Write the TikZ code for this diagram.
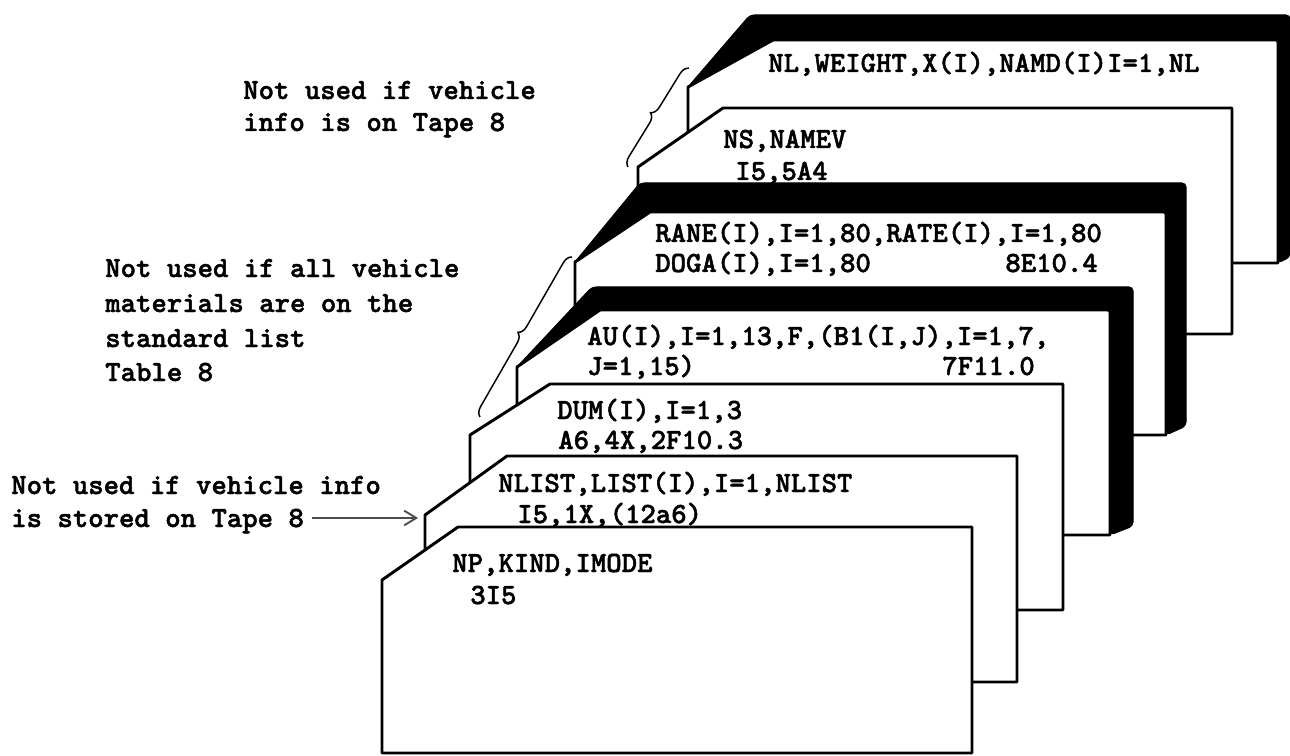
\documentclass[tikz,border=0pt]{standalone}
\usepackage{fontspec}
\newfontfamily\cardfont[Extension=.otf, FakeBold=1.6]{lmmonolt10-bold}
\usetikzlibrary{decorations.pathreplacing,arrows.meta}
\begin{document}
\begin{tikzpicture}[x=0.75pt,y=-0.75pt,
  card/.style={draw=black, fill=white, line width=2.2pt, line join=round},
  band/.style={fill=black, draw=black, line width=0.8pt, line join=round, rounded corners=3pt},
  tt/.style={font={\cardfont\fontsize{22}{24}\selectfont}, inner sep=0pt, text=black},
  cardtext/.style={tt, anchor=base west},
  cardright/.style={tt, anchor=base east},
  bracestyle/.style={decorate, decoration={brace, amplitude=7pt}, line width=1.1pt},
  pointer/.style={-{Straight Barb[length=9pt,width=11pt]}, line width=1.4pt, draw=black!70}
]
\useasboundingbox (0,0) rectangle (1290,756);

% --- card 7 (back): NL,WEIGHT
\draw[card] (688,263) -- (688,87) -- (773,40) -- (1278,40) -- (1278,263) -- cycle;
\filldraw[band] (688,87) -- (750,15) -- (1290,15) -- (1290,257) -- (1278,263) -- (1278,40) -- (773,40) -- cycle;
\node[cardtext] (nl) at (768,72) {NL,WEIGHT,X(I),NAMD(I)I=1,NL};

% --- card 6: NS,NAMEV
\draw[card] (638,334) -- (638,167) -- (723,108) -- (1232,108) -- (1232,334) -- cycle;
\node[cardtext] (ns1) at (723,148) {NS,NAMEV};
\node[cardtext] (ns2) at (735,180) {I5,5A4};

% --- card 5: RANE
\draw[card] (575,435) -- (575,262) -- (650,212) -- (1166,212) -- (1166,435) -- cycle;
\filldraw[band] (575,262) -- (640,183) -- (1186,183) -- (1186,426) -- (1166,435) -- (1166,212) -- (650,212) -- cycle;
\node[cardtext] (ra1) at (655,242) {RANE(I),I=1,80,RATE(I),I=1,80};
\node[cardtext] (ra2) at (655,272) {DOGA(I),I=1,80};
\node[cardright] (ra3) at (1098,272) {8E10.4};

% --- card 4: AU
\draw[card] (517,535) -- (517,367) -- (600,310) -- (1110,310) -- (1110,535) -- cycle;
\filldraw[band] (517,367) -- (592,287) -- (1133,287) -- (1133,526) -- (1110,535) -- (1110,310) -- (600,310) -- cycle;
\node[cardtext] (au1) at (587,345) {AU(I),I=1,13,F,(B1(I,J),I=1,7,};
\node[cardtext] (au2) at (587,375) {J=1,15)};
\node[cardright] (au3) at (1035,375) {7F11.0};

% --- card 3: DUM
\draw[card] (470,610) -- (470,435) -- (550,384) -- (1063,384) -- (1063,610) -- cycle;
\node[cardtext] (du1) at (557,419) {DUM(I),I=1,3};
\node[cardtext] (du2) at (558,449) {A6,4X,2F10.3};

% --- card 2: NLIST
\draw[card] (425,682) -- (425,515) -- (507,456) -- (1017,456) -- (1017,682) -- cycle;
\node[cardtext] (nli1) at (498,492) {NLIST,LIST(I),I=1,NLIST};
\node[cardtext] (nli2) at (517,523) {I5,1X,(12a6)};

% --- card 1 (front): NP
\draw[card] (382,753) -- (382,580) -- (458,527) -- (972,527) -- (972,753) -- cycle;
\node[cardtext] (np1) at (452,572) {NP,KIND,IMODE};
\node[cardtext] (np2) at (470,604) {3I5};

% --- braces
\draw[bracestyle] (628,167) -- (689,68);
\draw[bracestyle] (480,417) -- (572,257);

% --- annotations
\node[cardtext] (a1) at (243,99) {Not used if vehicle};
\node[cardtext] (a2) at (243,131) {info is on Tape 8};

\node[cardtext] (b1) at (105,277) {Not used if all vehicle};
\node[cardtext] (b2) at (105,312) {materials are on the};
\node[cardtext] (b3) at (105,347) {standard list};
\node[cardtext] (b4) at (105,381) {Table 8};

\node[cardtext] (c1) at (11,494) {Not used if vehicle info};
\node[cardtext] (c2) at (11,527) {is stored on Tape 8};
\coordinate (arrowstart) at (312,518);
\coordinate (arrowtip) at (418,518);
\draw[pointer] (arrowstart) -- (arrowtip);
\end{tikzpicture}
\end{document}
